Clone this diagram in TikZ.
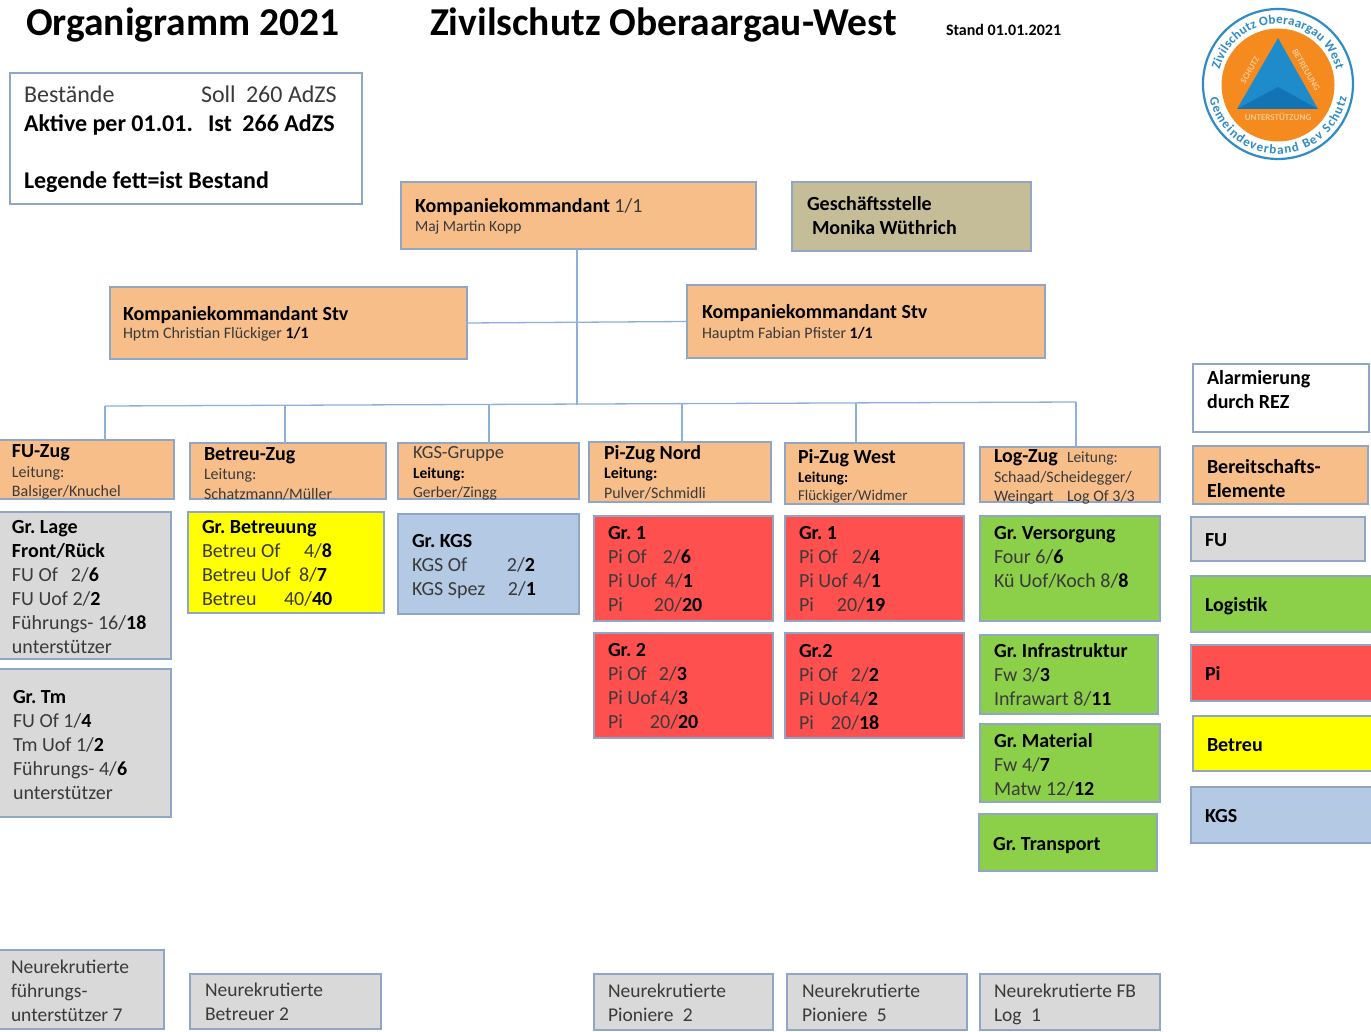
\documentclass[tikz,border=0pt]{standalone}
\usepackage{fontspec}
\setmainfont{Carlito}
\usetikzlibrary{decorations.text}
\frenchspacing
\definecolor{bord}{HTML}{8FA6C6}
\definecolor{linec}{HTML}{8DB0DA}
\definecolor{txtc}{HTML}{3A3A3A}
\definecolor{orangeb}{HTML}{F8BE8A}
\definecolor{greyb}{HTML}{D9D9D9}
\definecolor{blueb}{HTML}{B4C9E3}
\definecolor{redb}{HTML}{FF5050}
\definecolor{greenb}{HTML}{8CD04A}
\definecolor{oliveb}{HTML}{C4BD97}
\definecolor{yellowb}{HTML}{FFFF00}
\definecolor{logob}{HTML}{2F8CC6}
\definecolor{logoo}{HTML}{F58B1F}
\definecolor{logot}{HTML}{1E8BCB}
\definecolor{logod}{HTML}{1273B5}
\definecolor{logol}{HTML}{F8C890}
\tikzset{
  x=1pt,y=1pt,
  boxs/.style={draw=bord,line width=1.4pt,inner sep=0pt,outer sep=0pt,anchor=north west},
  whitebox/.style={boxs,fill=white},
  orangebox/.style={boxs,fill=orangeb},
  greybox/.style={boxs,fill=greyb},
  yellowbox/.style={boxs,fill=yellowb},
  bluebox/.style={boxs,fill=blueb},
  redbox/.style={boxs,fill=redb},
  greenbox/.style={boxs,fill=greenb},
  olivebox/.style={boxs,fill=oliveb},
  conn/.style={draw=linec,line width=1.3pt},
  txt/.style={inner sep=0pt,outer sep=0pt,anchor=north west,align=left,text=txtc}
}
\newcommand\bx[6]{%
  \pgfmathsetmacro\bw{#5-#3}\pgfmathsetmacro\bh{#6-#4}%
  \node[#2,minimum width=\bw pt,minimum height=\bh pt] (#1) at (#3,-#4) {};}
% name, x, first baseline, size, pitch, text
\newcommand\tx[6]{%
  \pgfmathsetmacro\ty{-(#3+1-0.7*#5)}%
  \node[txt,font=\fontsize{#4}{#5}\selectfont] (#1) at (#2,\ty) {\strut #6};}
\newcommand\B[1]{\textbf{\color{black}#1}}
\newcommand\T[2]{\makebox[#1pt][l]{#2}}
\begin{document}
\begin{tikzpicture}
\useasboundingbox (0,0) rectangle (1371,-1032);
% titles
\tx{t1}{26}{35}{39.5}{42}{\B{Organigramm 2021}}
\tx{t2}{430}{35}{39.5}{42}{\B{Zivilschutz Oberaargau-West}}
\tx{t3}{946}{35}{16}{18}{\B{Stand 01.01.2021}}
% logo
\fill[white] (1278,-84) circle (76);
\draw[logob,line width=2.2pt] (1278,-84) circle (75);
\fill[logoo] (1278,-85) circle (56.5);
\fill[logot] (1278,-38) -- (1237,-109) -- (1318,-109) -- cycle;
\fill[logod] (1278,-87) -- (1237,-109) -- (1318,-109) -- cycle;
\path[decorate,decoration={text along path,text align=fit to path,
  text={|\bfseries\fontsize{13}{13}\selectfont\color{logob}|Zivilschutz Oberaargau West}}]
  (1278,-84) ++(166:60) arc (166:14:60);
\path[decorate,decoration={text along path,text align=fit to path,
  text={|\bfseries\fontsize{13}{13}\selectfont\color{logob}|Gemeindeverband Bev Schutz}}]
  (1278,-84) ++(192:70) arc (192:349:70);
\node[inner sep=0pt,rotate=60,text=logol,font=\bfseries\fontsize{9}{9}\selectfont] (l1) at (1250,-70) {SCHUTZ};
\node[inner sep=0pt,rotate=-60,text=logol,font=\bfseries\fontsize{9}{9}\selectfont] (l2) at (1306,-70) {BETREUUNG};
\node[inner sep=0pt,text=logol,font=\bfseries\fontsize{9}{9}\selectfont] (l3) at (1278,-117) {UNTERSTÜTZUNG};
% boxes
\bx{leg}{whitebox}{10}{73}{362}{204}
\bx{kdt}{orangebox}{401}{182}{756}{249}
\bx{gs}{olivebox}{792}{182}{1031}{251}
\bx{stvl}{orangebox}{110}{287}{467}{359}
\bx{stvr}{orangebox}{687}{285}{1045}{358}
\bx{fu}{orangebox}{-1}{440}{174}{499}
\bx{be}{orangebox}{190}{443}{386}{499}
\bx{kg}{orangebox}{398}{443}{579}{499}
\bx{pn}{orangebox}{589}{442}{771}{502}
\bx{pw}{orangebox}{785}{443}{964}{504}
\bx{lg}{orangebox}{980}{447}{1160}{502}
\bx{grl}{greybox}{-1}{512}{171}{659}
\bx{grt}{greybox}{-1}{669}{171}{817}
\bx{grb}{yellowbox}{188}{512}{384}{613}
\bx{grk}{bluebox}{398}{514}{579}{614}
\bx{na}{redbox}{594}{516}{773}{621}
\bx{nb}{redbox}{594}{633}{773}{738}
\bx{wa}{redbox}{785}{516}{964}{621}
\bx{wb}{redbox}{785}{633}{964}{738}
\bx{gv}{greenbox}{980}{516}{1160}{621}
\bx{gi}{greenbox}{980}{635}{1158}{714}
\bx{gm}{greenbox}{980}{724}{1160}{802}
\bx{gt}{greenbox}{979}{814}{1157}{871}
\bx{n1}{greybox}{-1}{950}{164}{1029}
\bx{n2}{greybox}{190}{974}{381}{1029}
\bx{n3}{greybox}{594}{974}{773}{1030}
\bx{n4}{greybox}{787}{974}{967}{1030}
\bx{n5}{greybox}{980}{974}{1160}{1030}
\bx{ra}{whitebox}{1193}{364}{1369}{432}
\bx{rb}{orangebox}{1193}{446}{1368}{504}
\bx{rc}{greybox}{1191}{517}{1365}{561}
\bx{rd}{greenbox}{1191}{576}{1372}{632}
\bx{re}{redbox}{1191}{645}{1372}{701}
\bx{rf}{yellowbox}{1193}{716}{1372}{771}
\bx{rg}{bluebox}{1191}{787}{1372}{843}
% connectors
\coordinate (busl) at (105,-406);
\coordinate (busr) at (1076,-402);
\coordinate (d2) at (285,-405);
\coordinate (d3) at (489,-404.5);
\coordinate (d4) at (682,-403.5);
\coordinate (d5) at (856,-403);
\coordinate (busm) at (577,-404.5);
\draw[conn] (busl) -- (busr);
\draw[conn] (kdt.south -| busm) -- (busm);
\draw[conn] (stvl.east) -- (stvr.west);
\draw[conn] (busl) -- (busl |- fu.north);
\draw[conn] (d2) -- (d2 |- be.north);
\draw[conn] (d3) -- (d3 |- kg.north);
\draw[conn] (d4) -- (d4 |- pn.north);
\draw[conn] (d5) -- (d5 |- pw.north);
\draw[conn] (busr) -- (busr |- lg.north);
% legend
\tx{x1}{24}{102}{24}{28}{\T{177}{Bestände}Soll\hspace{5pt} 260 AdZS}
\tx{x2}{24}{131}{24}{28}{\T{184}{\B{Aktive per 01.01.}}\B{Ist\hspace{5pt} 266 AdZS}}
\tx{x3}{24}{188}{24}{28}{\B{Legende fett=ist Bestand}}
% top
\tx{x4}{415}{212}{20}{24}{\B{Kompaniekommandant} 1/1}
\tx{x5}{415}{231}{15.5}{18}{Maj Martin Kopp}
\tx{x6}{807}{210}{20}{24}{\B{Geschäftsstelle}\\[0pt]\hspace*{5pt}\B{Monika Wüthrich}}
\tx{x7}{123}{319}{20}{24}{\B{Kompaniekommandant Stv}}
\tx{x8}{123}{338}{16}{18}{Hptm Christian Flückiger \B{1/1}}
\tx{x9}{702}{318}{20}{24}{\B{Kompaniekommandant Stv}}
\tx{x10}{702}{337}{16}{18}{Hauptm Fabian Pfister \B{1/1}}
% Zug heads
\tx{a1}{12}{456}{20}{20}{\B{FU-Zug}}
\tx{a2}{12}{476}{16}{19}{Leitung:\\Balsiger/Knuchel}
\tx{b1}{204}{459}{20}{20}{\B{Betreu-Zug}}
\tx{b2}{204}{478}{16}{20}{Leitung:\\Schatzmann/Müller}
\tx{c1}{413}{457}{18.5}{20}{KGS-Gruppe}
\tx{c2}{413}{477}{15.5}{19}{\B{Leitung:}\\Gerber/Zingg}
\tx{d1}{604}{458}{20}{20}{\B{Pi-Zug Nord}}
\tx{d2t}{604}{477}{16}{20}{\B{Leitung:}\\Pulver/Schmidli}
\tx{e1}{798}{462}{20}{20}{\B{Pi-Zug West}}
\tx{e2}{798}{481}{15}{18}{\B{Leitung:}\\Flückiger/Widmer}
\tx{f1}{994}{461}{20}{20}{\B{Log-Zug}}
\tx{f2}{1067}{461}{15.5}{19}{Leitung:}
\tx{f3}{994}{481}{16}{19}{Schaad/Scheidegger/\\\T{73}{Weingart}Log Of 3/3}
% groups
\tx{g1}{12}{532}{20}{24}{\B{Gr. Lage}\\\B{Front/Rück}\\\T{59}{FU Of}2/\B{6}\\FU Uof 2/\B{2}\\Führungs- 16/\B{18}\\unterstützer}
\tx{g2}{13}{702}{20}{24}{\B{Gr. Tm}\\FU Of 1/\B{4}\\Tm Uof 1/\B{2}\\Führungs- 4/\B{6}\\unterstützer}
\tx{g3}{202}{532}{20}{24}{\B{Gr. Betreuung}\\\T{102}{Betreu Of}4/\B{8}\\\T{97}{Betreu Uof}8/\B{7}\\\T{82}{Betreu}40/\B{40}}
\tx{g4}{412}{546}{20}{24}{\B{Gr. KGS}\\\T{95}{KGS Of}2/\B{2}\\\T{96}{KGS Spez}2/\B{1}}
\tx{g5}{608}{538}{20}{24}{\B{Gr. 1}\\\T{55}{Pi Of}2/\B{6}\\\T{57}{Pi Uof}4/\B{1}\\\T{46}{Pi}20/\B{20}}
\tx{g6}{608}{655}{20}{24}{\B{Gr. 2}\\\T{51}{Pi Of}2/\B{3}\\\T{52}{Pi Uof}4/\B{3}\\\T{42}{Pi}20/\B{20}}
\tx{g7}{799}{538}{20}{24}{\B{Gr. 1}\\\T{53}{Pi Of}2/\B{4}\\\T{54}{Pi Uof}4/\B{1}\\\T{38}{Pi}20/\B{19}}
\tx{g8}{799}{656}{20}{24}{\B{Gr.2}\\\T{52}{Pi Of}2/\B{2}\\\T{51}{Pi Uof}4/\B{2}\\\T{32}{Pi}20/\B{18}}
\tx{g9}{994}{538}{20}{24}{\B{Gr. Versorgung}\\Four 6/\B{6}\\Kü Uof/Koch 8/\B{8}}
\tx{g10}{994}{656}{20}{24}{\B{Gr. Infrastruktur}\\Fw 3/\B{3}\\Infrawart 8/\B{11}}
\tx{g11}{994}{746}{20}{24}{\B{Gr. Material}\\Fw 4/\B{7}\\Matw 12/\B{12}}
\tx{g12}{993}{849}{20}{24}{\B{Gr. Transport}}
% recruits
\tx{h1}{11}{972}{19.5}{24}{Neurekrutierte\\führungs-\\unterstützer 7}
\tx{h2}{205}{995}{19.5}{24}{Neurekrutierte\\Betreuer 2}
\tx{h3}{608}{996}{19.5}{24}{Neurekrutierte\\Pioniere\hspace{5pt} 2}
\tx{h4}{802}{996}{19.5}{24}{Neurekrutierte\\Pioniere\hspace{5pt} 5}
\tx{h5}{994}{996}{19.5}{24}{Neurekrutierte FB\\Log\hspace{5pt} 1}
% right column
\tx{i1}{1207}{383}{20}{24}{\B{Alarmierung}\\\B{durch REZ}}
\tx{i2}{1207}{472}{20}{24}{\B{Bereitschafts-}\\\B{Elemente}}
\tx{i3}{1205}{545}{20}{24}{\B{FU}}
\tx{i4}{1205}{610}{20}{24}{\B{Logistik}}
\tx{i5}{1205}{679}{20}{24}{\B{Pi}}
\tx{i6}{1207}{750}{20}{24}{\B{Betreu}}
\tx{i7}{1205}{821}{20}{24}{\B{KGS}}
\end{tikzpicture}
\end{document}
